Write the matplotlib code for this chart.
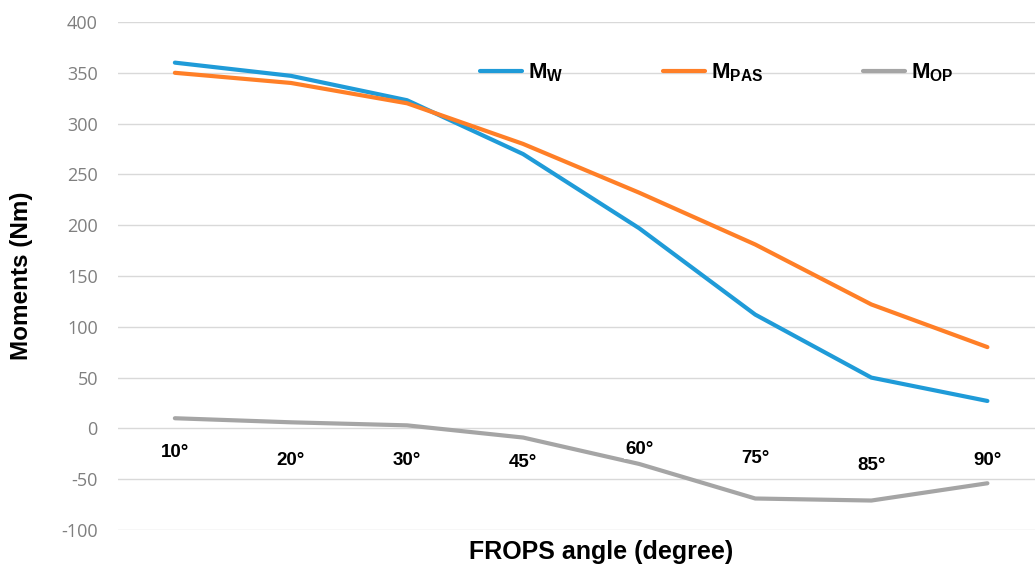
import matplotlib
matplotlib.use("Agg")
import matplotlib.pyplot as plt
import numpy as np

categories = ["10°", "20°", "30°", "45°", "60°", "75°", "85°", "90°"]
m_w = [360, 347, 323, 270, 197, 112, 50, 27]
m_pas = [350, 340, 320, 280, 232, 181, 122, 80]
m_op = [10, 6, 3, -9, -35, -69, -71, -54]
series_names = [r"$\mathbf{M_{W}}$", r"$\mathbf{M_{PAS}}$", r"$\mathbf{M_{OP}}$"]
yticks = [-100, -50, 0, 50, 100, 150, 200, 250, 300, 350, 400]

# baseline of the category labels, in data units (style)
label_y = [-28, -36, -36, -38, -25, -34, -41, -36]

plt.rcParams["mathtext.fontset"] = "custom"
plt.rcParams["mathtext.bf"] = "Liberation Sans:bold"
plt.rcParams["mathtext.rm"] = "Liberation Sans"
plt.rcParams["axes.unicode_minus"] = False

fig = plt.figure(figsize=(10.35, 5.72), dpi=100)
ax = fig.add_axes([118/1035, 1-530/572, 1-118/1035, (530-22)/572])

x = np.arange(len(categories))
colors = ["#1F9BD8", "#FF7F27", "#A5A5A5"]
for vals, c, n in zip([m_w, m_pas, m_op], colors, series_names):
    ax.plot(x, vals, color=c, lw=3.0, solid_capstyle="round", solid_joinstyle="round", label=n, zorder=3)

ax.set_xlim(-0.49, 7.41)
ax.set_ylim(-100, 400)
ax.set_yticks(yticks)
ax.yaxis.grid(True, color="#D9D9D9", lw=1)
ax.set_axisbelow(True)
for s in ax.spines.values():
    s.set_visible(False)
ax.tick_params(axis="y", length=0, pad=14.5, labelsize=13, labelcolor="#7F7F7F")
for t in ax.get_yticklabels():
    t.set_fontfamily("Open Sans")
ax.set_xticks([])

for xi, lab, ly in zip(x, categories, label_y):
    ax.text(xi, ly, lab, ha="center", va="baseline", fontsize=13.5, fontweight="bold",
            family="Liberation Sans", zorder=4,
            bbox=dict(boxstyle="square,pad=0.05", fc="white", ec="none"))

ax.set_ylabel("Moments (Nm)", fontsize=17.5, fontweight="bold", family="Liberation Sans")
ax.yaxis.set_label_coords((33-118)/917, 0.5)
ax.set_xlabel("FROPS angle (degree)", fontsize=18, fontweight="bold", family="Liberation Sans")
ax.xaxis.set_label_coords((601-118)/917, -0.02)

leg = ax.legend(loc="center left", bbox_to_anchor=((480-118)/917, 0.9), ncol=3, frameon=False,
                fontsize=16, handlelength=1.9, handletextpad=0.25, columnspacing=4.5,
                borderpad=0, borderaxespad=0)

fig.savefig("out.png", dpi=100)
